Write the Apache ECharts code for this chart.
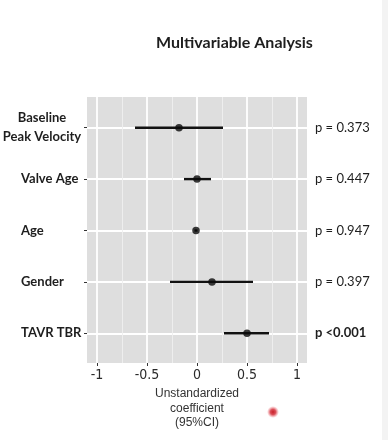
<!DOCTYPE html>
<html>
<head>
<meta charset="utf-8">
<script src="https://cdn.jsdelivr.net/npm/echarts@6/dist/echarts.min.js"></script>
<style>
html,body{margin:0;padding:0;background:#fff;}
#chart{width:388px;height:440px;}
</style>
</head>
<body>
<div id="chart"></div>
<script>
// ---- data ----
const categories = ['Baseline\nPeak Velocity', 'Valve Age', 'Age', 'Gender', 'TAVR TBR'];
const estimates = [-0.18, 0.00, -0.01, 0.15, 0.50];
const ciLower  = [-0.62, -0.13, -0.025, -0.27, 0.27];
const ciUpper  = [0.26, 0.14, 0.005, 0.56, 0.72];
const pValues  = ['p = 0.373', 'p = 0.447', 'p = 0.947', 'p = 0.397', 'p <0.001'];
const xTicks   = [-1, -0.5, 0, 0.5, 1];
const titleText = 'Multivariable Analysis';
const xAxisName = 'Unstandardized\ncoefficient\n(95%CI)';

const chart = echarts.init(document.getElementById('chart'), null, {renderer: 'canvas'});

const labelFont = 'Lato, "Open Sans", sans-serif';

const option = {
  backgroundColor: '#ffffff',
  animation: false,
  title: {
    text: titleText,
    left: 151, top: 30,
    textStyle: {fontFamily: labelFont, fontWeight: 'bold', fontSize: 16, color: '#1e1e1e'}
  },
  grid: [
    {left: 87, right: 81, top: 97, bottom: 77, show: true, backgroundColor: '#dedede', borderWidth: 0, outerBoundsMode: 'none', containLabel: false},
    {left: 97, right: 91, top: 97, bottom: 77, outerBoundsMode: 'none', containLabel: false},
    {left: 87, right: 81, top: 127.7, bottom: 106.7, outerBoundsMode: 'none', containLabel: false}
  ],
  xAxis: [
    {gridIndex: 0, type: 'value', min: -1.1, max: 1.1, show: false},
    {
      gridIndex: 1, type: 'value',
      min: xTicks[0], max: xTicks[xTicks.length - 1], interval: xTicks[1] - xTicks[0],
      axisLine: {show: false, onZero: false},
      axisTick: {show: true, length: 3, lineStyle: {color: '#333', width: 1}},
      axisLabel: {
        margin: 5, fontSize: 14, color: '#2a2a2a',
        fontFamily: '"Liberation Sans Narrow", "Arial Narrow", "DejaVu Sans Condensed", "Liberation Sans", sans-serif'
      },
      splitLine: {show: true, lineStyle: {color: '#ffffff', width: 1.8}},
      minorTick: {show: false, splitNumber: 2},
      minorSplitLine: {show: true, lineStyle: {color: '#efefef', width: 0.9}},
      name: xAxisName, nameLocation: 'middle', nameGap: 23,
      nameTextStyle: {fontFamily: '"Liberation Sans", Arial, sans-serif', fontSize: 12, color: '#333', lineHeight: 14.5}
    },
    {gridIndex: 2, type: 'value', min: -1.1, max: 1.1, show: false}
  ],
  yAxis: [
    {gridIndex: 0, type: 'value', show: false},
    {gridIndex: 1, type: 'value', show: false},
    {
      gridIndex: 2, type: 'category', inverse: true, boundaryGap: false,
      data: categories.map((c, i) => i === 0
        ? {value: c, textStyle: {align: 'center', padding: [0, 0, 0, 42]}}
        : c),
      axisLine: {show: false, onZero: false},
      axisTick: {show: true, length: 3, interval: 0, lineStyle: {color: '#333', width: 1}},
      axisLabel: {
        interval: 0, margin: 66, align: 'left',
        fontFamily: labelFont, fontWeight: 'bold', fontSize: 13, color: '#1e1e1e', lineHeight: 19
      },
      splitLine: {show: true, interval: 0, lineStyle: {color: '#ffffff', width: 1.8}}
    },
    {
      gridIndex: 2, type: 'category', position: 'right', inverse: true, boundaryGap: false,
      data: pValues.map((p, i) => i === pValues.length - 1
        ? {value: p, textStyle: {fontWeight: 'bold'}}
        : p),
      axisLine: {show: false, onZero: false}, axisTick: {show: false}, splitLine: {show: false},
      axisLabel: {interval: 0, margin: 8, fontFamily: labelFont, fontSize: 13, color: '#1e1e1e'}
    }
  ],
  series: [
    {
      type: 'custom', xAxisIndex: 2, yAxisIndex: 2,
      dimensions: [{name: 'lo', type: 'float'}, {name: 'hi', type: 'float'}, {name: 'row', type: 'ordinal'}],
      data: categories.map((c, i) => [ciLower[i], ciUpper[i], c]),
      encode: {x: [0, 1], y: 2},
      renderItem: function (params, api) {
        const row = api.value(2);
        const a = api.coord([api.value(0), row]);
        const b = api.coord([api.value(1), row]);
        return {
          type: 'line',
          shape: {x1: a[0], y1: a[1], x2: b[0], y2: b[1]},
          style: {stroke: '#111', lineWidth: 2.4}
        };
      },
      z: 3
    },
    {
      type: 'scatter', xAxisIndex: 2, yAxisIndex: 2,
      data: categories.map((c, i) => [estimates[i], c]),
      symbol: 'circle', symbolSize: 7.5,
      itemStyle: {color: '#0a0a0a'},
      z: 4
    }
  ],
  graphic: [
    {
      type: 'rect', right: 0, top: 0, shape: {width: 6, height: 440},
      style: {fill: '#f3f3f3'}, silent: true
    },
    {
      type: 'circle', x: 273, y: 412, shape: {cx: 0, cy: 0, r: 6},
      style: {
        fill: {
          type: 'radial', x: 0.5, y: 0.5, r: 0.5,
          colorStops: [
            {offset: 0, color: 'rgba(200,30,40,1)'},
            {offset: 0.45, color: 'rgba(215,60,70,0.9)'},
            {offset: 1, color: 'rgba(240,120,130,0)'}
          ]
        }
      },
      silent: true
    }
  ]
};
chart.setOption(option);
</script>
</body>
</html>
